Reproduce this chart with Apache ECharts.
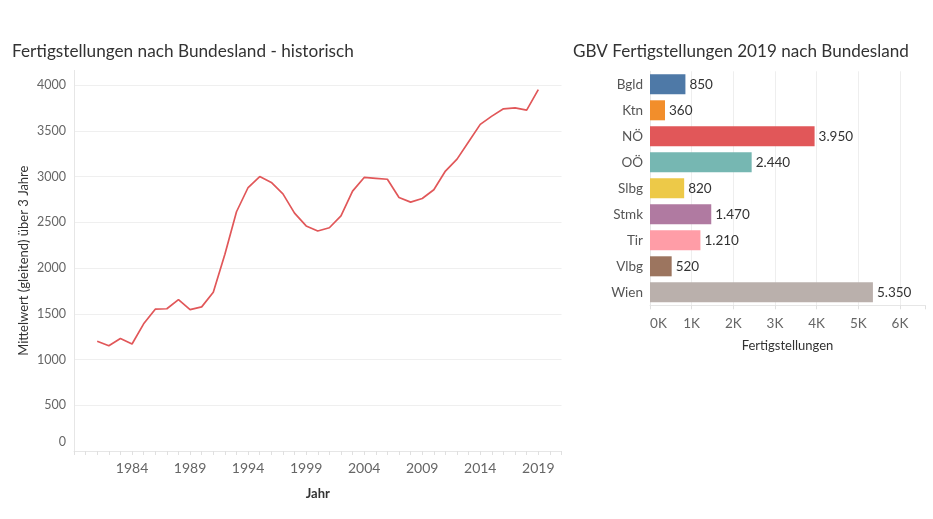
<!DOCTYPE html>
<html>
<head>
<meta charset="utf-8">
<script src="https://cdn.jsdelivr.net/npm/echarts@6/dist/echarts.min.js"></script>
<style>html,body{margin:0;padding:0;background:#fff;}#c{width:933px;height:519px;}</style>
</head>
<body>
<div id="c"></div>
<script>
const years = [1981,1982,1983,1984,1985,1986,1987,1988,1989,1990,1991,1992,1993,1994,1995,1996,1997,1998,1999,2000,2001,2002,2003,2004,2005,2006,2007,2008,2009,2010,2011,2012,2013,2014,2015,2016,2017,2018,2019];
const movingAvg = [1200,1150,1230,1170,1390,1550,1555,1655,1545,1575,1735,2150,2615,2880,3000,2935,2810,2600,2460,2405,2440,2570,2840,2990,2980,2970,2770,2720,2760,2855,3060,3190,3380,3570,3660,3740,3750,3725,3950];
const states = ['Bgld','Ktn','NÖ','OÖ','Slbg','Stmk','Tir','Vlbg','Wien'];
const completions2019 = [850,360,3950,2440,820,1470,1210,520,5350];
const stateColors = ['#4e79a7','#f28e2b','#e15759','#76b7b2','#edc948','#b07aa1','#ff9da7','#9c755f','#bab0ac'];

const FONT = 'Lato';
function de(n){ return String(n).replace(/\B(?=(\d{3})+(?!\d))/g,'.'); }

const chart = echarts.init(document.getElementById('c'));
chart.setOption({
  animation:false,
  textStyle:{fontFamily:FONT},
  title:[
    {text:'Fertigstellungen nach Bundesland - historisch', left:12, top:43, padding:0, textStyle:{fontFamily:FONT,fontSize:17.2,fontWeight:'normal',color:'#333'}},
    {text:'GBV Fertigstellungen 2019 nach Bundesland', left:573, top:43, padding:0, textStyle:{fontFamily:FONT,fontSize:17.1,fontWeight:'normal',color:'#333'}}
  ],
  grid:[
    {left:74, right:371.5, top:70.4, bottom:68, containLabel:false},
    {left:650, right:8, top:71.3, bottom:213.7, containLabel:false}
  ],
  xAxis:[
    {gridIndex:0, type:'value', min:1979, max:2021, interval:1,
     name:'Jahr', nameLocation:'middle', nameGap:36,
     nameTextStyle:{fontFamily:FONT,fontSize:13,fontWeight:'bold',color:'#333'},
     axisLine:{show:true,lineStyle:{color:'#e6e6e6'}},
     axisTick:{show:true,length:4,lineStyle:{color:'#e0e0e0'}},
     splitLine:{show:false},
     axisLabel:{margin:10,fontSize:14,color:'#666',fontFamily:FONT,
       formatter:v=>(v>=1984 && (v-1984)%5===0 && v<=2019 ? String(v) : '')}
    },
    {gridIndex:1, type:'value', min:0, max:6600, interval:1000,
     name:'Fertigstellungen', nameLocation:'middle', nameGap:34,
     nameTextStyle:{fontFamily:FONT,fontSize:13,color:'#333'},
     axisLine:{show:true,lineStyle:{color:'#e6e6e6'}},
     axisTick:{show:true,length:4,lineStyle:{color:'#e0e0e0'}},
     splitLine:{show:true,lineStyle:{color:['#eeeeee','#eeeeee','#eeeeee','#eeeeee','#eeeeee','#eeeeee','#eeeeee','rgba(0,0,0,0)']}},
     axisLabel:{margin:11,fontSize:13.5,color:'#666',fontFamily:FONT,
       formatter:v=>(v===0 ? '{z|0K}' : (v%1000===0 && v<=6000 ? (v/1000)+'K' : '')),
       rich:{z:{padding:[0,0,0,17],fontSize:13.5,color:'#666',fontFamily:FONT}}}
    }
  ],
  yAxis:[
    {gridIndex:0, type:'value', min:0, max:4160, interval:500,
     name:'Mittelwert (gleitend) über 3 Jahre', nameLocation:'middle', nameGap:44, nameMoveOverlap:false,
     nameTextStyle:{fontFamily:FONT,fontSize:13,color:'#333'},
     axisLine:{show:true,lineStyle:{color:'#e6e6e6'}},
     axisTick:{show:false},
     splitLine:{show:true,lineStyle:{color:['rgba(0,0,0,0)','#efefef','#efefef','#efefef','#efefef','#efefef','#efefef','#efefef','#efefef','rgba(0,0,0,0)']}},
     axisLabel:{margin:8,fontSize:12.5,color:'#666',fontFamily:FONT,showMaxLabel:false,
       formatter:v=>(v===0 ? '{z|0}' : (v%500===0 ? String(v) : '')),
       rich:{z:{padding:[0,0,18,0],fontSize:12.5,color:'#666',fontFamily:FONT}}}
    },
    {gridIndex:1, type:'category', data:states, inverse:true,
     axisLine:{show:true,lineStyle:{color:'#e6e6e6'}},
     axisTick:{show:false},
     axisLabel:{margin:7,fontSize:13.5,color:'#555',fontFamily:FONT}
    }
  ],
  series:[
    {type:'line', xAxisIndex:0, yAxisIndex:0, data:years.map((y,i)=>[y,movingAvg[i]]),
     showSymbol:false, lineStyle:{color:'#e15759',width:1.7}, itemStyle:{color:'#e15759'}},
    {type:'bar', xAxisIndex:1, yAxisIndex:1, barCategoryGap:'23%',
     data:completions2019.map((v,i)=>({value:v,itemStyle:{color:stateColors[i]}})),
     label:{show:true,position:'right',distance:4,fontSize:13.5,color:'#333',fontFamily:FONT,formatter:p=>de(p.value)}}
  ]
});
</script>
</body>
</html>
